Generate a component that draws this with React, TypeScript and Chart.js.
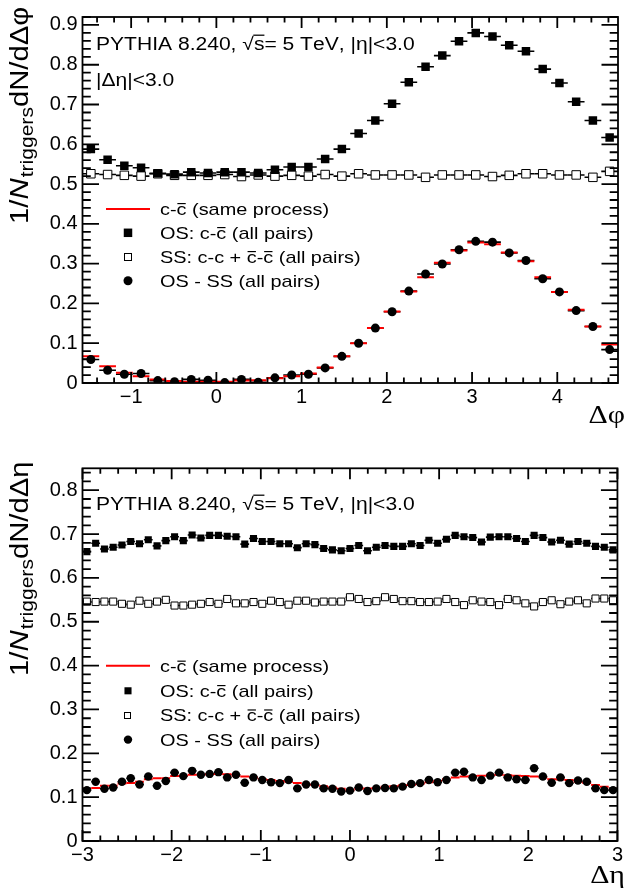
import React, { useEffect, useRef } from "react";
import { Chart, registerables } from "chart.js";

Chart.register(...registerables);

const PI = Math.PI;
const SANS = '"Liberation Sans", Arial, Helvetica, sans-serif';
const SERIF = '"Liberation Serif", "Times New Roman", serif';
const STRETCH = 1.17;

// ---------------- Top panel: Δφ (32 bins on [-π/2, 3π/2]) ----------------
const phiRange = [-PI / 2, (3 * PI) / 2];
const phiOS = [0.588, 0.561, 0.546, 0.541, 0.527, 0.525, 0.53, 0.528, 0.53, 0.53, 0.528, 0.536, 0.543, 0.543, 0.563, 0.588,
  0.627, 0.66, 0.702, 0.756, 0.795, 0.823, 0.859, 0.88, 0.871, 0.849, 0.834, 0.789, 0.754, 0.707, 0.66, 0.617];
const phiSS = [0.526, 0.524, 0.522, 0.52, 0.526, 0.522, 0.522, 0.522, 0.524, 0.519, 0.523, 0.52, 0.522, 0.52, 0.524, 0.52,
  0.526, 0.523, 0.523, 0.523, 0.517, 0.523, 0.523, 0.523, 0.519, 0.522, 0.526, 0.526, 0.523, 0.523, 0.517, 0.532];
const phiDiff = [0.059, 0.032, 0.022, 0.024, 0.006, 0.003, 0.009, 0.007, 0.001, 0.009, 0.002, 0.013, 0.02, 0.022, 0.038, 0.067,
  0.1, 0.138, 0.179, 0.231, 0.274, 0.299, 0.335, 0.356, 0.354, 0.327, 0.308, 0.262, 0.229, 0.182, 0.142, 0.084];
const phiSame = [0.067, 0.042, 0.026, 0.017, 0.009, 0.005, 0.003, 0.003, 0.003, 0.006, 0.007, 0.012, 0.017, 0.024, 0.039, 0.067,
  0.1, 0.138, 0.18, 0.23, 0.266, 0.302, 0.333, 0.353, 0.349, 0.328, 0.306, 0.266, 0.229, 0.184, 0.142, 0.097];
const phiXTicks = [-1, 0, 1, 2, 3, 4];
const phiXTickLabels = ["\u22121", "0", "1", "2", "3", "4"];
const phiYTicks = [0, 0.1, 0.2, 0.3, 0.4, 0.5, 0.6, 0.7, 0.8, 0.9];
const phiYTickLabels = ["0", "0.1", "0.2", "0.3", "0.4", "0.5", "0.6", "0.7", "0.8", "0.9"];
const phiYMax = 0.92;
const phiYTitle = ["1/", "N", "triggers", "dN/d\u0394\u03c6"];
const phiXTitle = "\u0394\u03c6";
const phiHeader = ["PYTHIA 8.240, \u221as= 5 TeV, |\u03b7|<3.0", "|\u0394\u03b7|<3.0"];

// ---------------- Bottom panel: Δη (61 bins on [-3, 3]) ----------------
const etaRange = [-3, 3];
const etaOS = [0.66, 0.679, 0.666, 0.67, 0.675, 0.683, 0.678, 0.687, 0.673, 0.685, 0.694, 0.685, 0.698, 0.691, 0.697, 0.697,
  0.695, 0.694, 0.677, 0.69, 0.683, 0.683, 0.678, 0.678, 0.669, 0.678, 0.676, 0.667, 0.664, 0.662, 0.667,
  0.674, 0.662, 0.67, 0.674, 0.672, 0.672, 0.678, 0.674, 0.686, 0.679, 0.688, 0.697, 0.694, 0.692, 0.682,
  0.693, 0.694, 0.694, 0.69, 0.683, 0.697, 0.692, 0.682, 0.686, 0.677, 0.683, 0.679, 0.672, 0.67, 0.664];
const etaSS = [0.546, 0.545, 0.546, 0.546, 0.541, 0.539, 0.548, 0.541, 0.546, 0.55, 0.537, 0.537, 0.539, 0.541, 0.545, 0.541,
  0.552, 0.542, 0.542, 0.545, 0.541, 0.548, 0.545, 0.539, 0.548, 0.548, 0.544,
  0.546, 0.546, 0.546, 0.556, 0.552, 0.545, 0.547, 0.556, 0.552, 0.547, 0.547, 0.545, 0.545, 0.546, 0.552,
  0.545, 0.538, 0.549, 0.546, 0.545, 0.538, 0.552, 0.549, 0.542, 0.535, 0.545, 0.549, 0.54, 0.546, 0.549,
  0.542, 0.553, 0.553, 0.549];
const etaDiff = [0.116, 0.135, 0.119, 0.122, 0.135, 0.143, 0.129, 0.147, 0.126, 0.137, 0.156, 0.148, 0.16, 0.151, 0.153, 0.157,
  0.145, 0.151, 0.133, 0.145, 0.139, 0.134, 0.132, 0.139, 0.12, 0.129, 0.129, 0.12, 0.119, 0.113, 0.115,
  0.122, 0.114, 0.12, 0.121, 0.12, 0.124, 0.13, 0.132, 0.139, 0.134, 0.139, 0.156, 0.158, 0.145, 0.139,
  0.149, 0.156, 0.145, 0.141, 0.139, 0.166, 0.147, 0.133, 0.145, 0.132, 0.138, 0.135, 0.12, 0.116, 0.116];
const etaSame = [0.119, 0.121, 0.126, 0.126, 0.131, 0.132, 0.135, 0.141, 0.143, 0.143, 0.148, 0.149, 0.151, 0.151, 0.152, 0.153,
  0.152, 0.149, 0.147, 0.145, 0.141, 0.139, 0.137, 0.135, 0.132, 0.129, 0.128, 0.125, 0.122, 0.119, 0.116,
  0.119, 0.12, 0.121, 0.124, 0.125, 0.127, 0.128, 0.13, 0.134, 0.137, 0.141, 0.145, 0.147, 0.148, 0.149,
  0.151, 0.151, 0.15, 0.149, 0.148, 0.147, 0.145, 0.141, 0.14, 0.139, 0.135, 0.132, 0.128, 0.124, 0.12];
const etaXTicks = [-3, -2, -1, 0, 1, 2, 3];
const etaXTickLabels = ["\u22123", "\u22122", "\u22121", "0", "1", "2", "3"];
const etaYTicks = [0, 0.1, 0.2, 0.3, 0.4, 0.5, 0.6, 0.7, 0.8];
const etaYTickLabels = ["0", "0.1", "0.2", "0.3", "0.4", "0.5", "0.6", "0.7", "0.8"];
const etaYMax = 0.85;
const etaYTitle = ["1/", "N", "triggers", "dN/d\u0394\u03b7"];
const etaXTitle = "\u0394\u03b7";
const etaHeader = ["PYTHIA 8.240, \u221as= 5 TeV, |\u03b7|<3.0"];

const legendLabels = [
  "c-c\u0304 (same process)",
  "OS: c-c\u0304 (all pairs)",
  "SS: c-c + c\u0304-c\u0304 (all pairs)",
  "OS - SS (all pairs)",
];

// minor / major tick spacing of the frame (ROOT style, ticks inside on all four sides)
const xMinorStep = 0.2;
const yMinorStep = 0.02;

// ---------------- helpers ----------------
function centers(n: number, lo: number, hi: number) {
  const w = (hi - lo) / n;
  return Array.from({ length: n }, (_, i) => lo + (i + 0.5) * w);
}

type Tok = { ch: string; bar: boolean; root: boolean };
function tokenize(s: string): Tok[] {
  const out: Tok[] = [];
  for (const c of Array.from(s)) {
    if (c === "\u0304") {
      if (out.length) out[out.length - 1].bar = true;
      continue;
    }
    out.push({ ch: c, bar: false, root: false });
  }
  for (let i = 0; i < out.length - 1; i++) if (out[i].ch === "\u221a") out[i + 1].root = true;
  return out;
}

function drawRich(ctx: CanvasRenderingContext2D, s: string, x: number, y: number, size: number,
  opts: { align?: string; sx?: number; family?: string } = {}) {
  const align = opts.align || "left";
  const sx = opts.sx ?? STRETCH;
  const family = opts.family || SANS;
  ctx.save();
  ctx.font = `${size}px ${family}`;
  ctx.textAlign = "left";
  ctx.textBaseline = "alphabetic";
  ctx.fillStyle = "#000";
  ctx.strokeStyle = "#000";
  const toks = tokenize(s);
  const ws = toks.map((t) => ctx.measureText(t.ch).width);
  const total = ws.reduce((a, b) => a + b, 0);
  ctx.translate(x, y);
  ctx.scale(sx, 1);
  let cx = align === "right" ? -total : align === "center" ? -total / 2 : 0;
  ctx.lineWidth = Math.max(1, size * 0.07);
  const rootTop = -ctx.measureText("\u221a").actualBoundingBoxAscent;
  toks.forEach((t, i) => {
    const w = ws[i];
    ctx.fillText(t.ch, cx, 0);
    if (t.bar) {
      const yy = -size * 0.66;
      ctx.beginPath();
      ctx.moveTo(cx + w * 0.08, yy);
      ctx.lineTo(cx + w * 0.92, yy);
      ctx.stroke();
    }
    if (t.root) {
      const yy = rootTop + 0.6;
      ctx.beginPath();
      ctx.moveTo(cx - 0.5, yy);
      ctx.lineTo(cx + w, yy);
      ctx.stroke();
    }
    cx += w;
  });
  ctx.restore();
}

function drawYTitle(ctx: CanvasRenderingContext2D, parts: string[], xBase: number, yStart: number) {
  ctx.save();
  ctx.translate(xBase, yStart);
  ctx.rotate(-PI / 2);
  ctx.scale(STRETCH, 1);
  ctx.fillStyle = "#000";
  ctx.textBaseline = "alphabetic";
  ctx.textAlign = "left";
  let cx = 0;
  ctx.font = `25px ${SANS}`;
  ctx.fillText(parts[0], cx, 0);
  cx += ctx.measureText(parts[0]).width;
  ctx.font = `italic 25px ${SANS}`;
  ctx.fillText(parts[1], cx, 0);
  cx += ctx.measureText(parts[1]).width + 1;
  ctx.font = `18px ${SANS}`;
  ctx.fillText(parts[2], cx, 5);
  cx += ctx.measureText(parts[2]).width;
  ctx.font = `25px ${SANS}`;
  ctx.fillText(parts[3], cx, 0);
  ctx.restore();
}

type Spec = {
  range: number[];
  yMax: number;
  n: number;
  os: number[];
  ss: number[];
  diff: number[];
  same: number[];
  xTicks: number[];
  xTickLabels: string[];
  yTicks: number[];
  yTickLabels: string[];
  yTitle: string[];
  xTitle: string;
  header: string[];
  padTop: number;
  xAxisH: number;
  yTitleStart: number;
  xTitleBase: number;
  headerBase: number[];
  legLineY: number;
  legBase: number[];
  sqR: number;
  cirR: number;
};

function decorPlugin(spec: Spec) {
  const binW = (spec.range[1] - spec.range[0]) / spec.n;
  return {
    id: "rootDecor",
    beforeDatasetsDraw(chart: any) {
      const { ctx, chartArea: a } = chart;
      const xs = chart.scales.x;
      const ys = chart.scales.y;
      ctx.save();
      ctx.beginPath();
      ctx.rect(a.left, a.top, a.right - a.left, a.bottom - a.top);
      ctx.clip();
      chart.data.datasets.forEach((ds: any) => {
        ctx.strokeStyle = ds.barColor;
        ctx.lineWidth = ds.barWidth;
        ds.data.forEach((p: any) => {
          const x1 = xs.getPixelForValue(p.x - binW / 2);
          const x2 = xs.getPixelForValue(p.x + binW / 2);
          const yy = ys.getPixelForValue(p.y);
          ctx.beginPath();
          ctx.moveTo(x1, yy);
          ctx.lineTo(x2, yy);
          ctx.stroke();
        });
      });
      ctx.restore();
    },
    afterDraw(chart: any) {
      const { ctx, chartArea: a } = chart;
      const xs = chart.scales.x;
      const ys = chart.scales.y;
      const L = a.left;
      const R = a.right;
      const T = a.top;
      const B = a.bottom;
      ctx.save();
      ctx.strokeStyle = "#000";
      ctx.lineWidth = 1.8;
      ctx.lineCap = "butt";
      // frame
      ctx.strokeRect(L, T, R - L, B - T);
      // x ticks (major at integers, minor every xMinorStep)
      const k0 = Math.ceil(spec.range[0] / xMinorStep - 1e-9);
      const k1 = Math.floor(spec.range[1] / xMinorStep + 1e-9);
      for (let k = k0; k <= k1; k++) {
        const v = k * xMinorStep;
        const major = Math.abs(v - Math.round(v)) < 1e-6;
        const len = major ? 11 : 5.5;
        const px = xs.getPixelForValue(v);
        ctx.beginPath();
        ctx.moveTo(px, B);
        ctx.lineTo(px, B - len);
        ctx.moveTo(px, T);
        ctx.lineTo(px, T + len);
        ctx.stroke();
      }
      // y ticks (major every 0.1, minor every yMinorStep)
      const m1 = Math.floor(spec.yMax / yMinorStep + 1e-9);
      for (let m = 0; m <= m1; m++) {
        const v = m * yMinorStep;
        const len = m % 5 === 0 ? 16.5 : 8.3;
        const py = ys.getPixelForValue(v);
        ctx.beginPath();
        ctx.moveTo(L, py);
        ctx.lineTo(L + len, py);
        ctx.moveTo(R, py);
        ctx.lineTo(R - len, py);
        ctx.stroke();
      }
      ctx.restore();

      // titles
      drawYTitle(ctx, spec.yTitle, 28, spec.yTitleStart);
      drawRich(ctx, spec.xTitle, 625, spec.xTitleBase, 26, { align: "right", family: SERIF, sx: 1.15 });
      spec.header.forEach((h, i) => drawRich(ctx, h, 96, spec.headerBase[i], 18));

      // legend
      const mx = 128;
      ctx.save();
      ctx.strokeStyle = "#ff0000";
      ctx.lineWidth = 2;
      ctx.beginPath();
      ctx.moveTo(106, spec.legLineY);
      ctx.lineTo(150, spec.legLineY);
      ctx.stroke();
      const side = spec.sqR * Math.SQRT2;
      const c1 = spec.legBase[1] - 6;
      ctx.fillStyle = "#000";
      ctx.fillRect(mx - side / 2, c1 - side / 2, side, side);
      const c2 = spec.legBase[2] - 6;
      ctx.strokeStyle = "#000";
      ctx.lineWidth = 1;
      ctx.strokeRect(Math.round(mx - side / 2) + 0.5, Math.round(c2 - side / 2) + 0.5, Math.round(side) - 1, Math.round(side) - 1);
      const c3 = spec.legBase[3] - 6;
      ctx.beginPath();
      ctx.arc(mx, c3, spec.cirR, 0, 2 * PI);
      ctx.fill();
      ctx.restore();
      legendLabels.forEach((lab, i) => drawRich(ctx, lab, 160, spec.legBase[i], 17));
    },
  };
}

function makeConfig(spec: Spec): any {
  const xc = centers(spec.n, spec.range[0], spec.range[1]);
  const pts = (arr: number[]) => arr.map((v, i) => ({ x: xc[i], y: v }));
  const datasets = [
    {
      label: legendLabels[1], data: pts(spec.os), order: 1, pointStyle: "rect", pointRadius: spec.sqR,
      backgroundColor: "#000", borderColor: "#000", borderWidth: 0, showLine: false, barColor: "#000", barWidth: 1.6,
    },
    {
      label: legendLabels[2], data: pts(spec.ss), order: 2, pointStyle: "rect", pointRadius: spec.sqR,
      backgroundColor: "#fff", borderColor: "#000", borderWidth: 1, showLine: false, barColor: "#000", barWidth: 1.6,
    },
    {
      label: legendLabels[3], data: pts(spec.diff), order: 0, pointStyle: "circle", pointRadius: spec.cirR,
      backgroundColor: "#000", borderColor: "#000", borderWidth: 0, showLine: false, barColor: "#000", barWidth: 1.6,
    },
    {
      label: legendLabels[0], data: pts(spec.same), order: 3, pointRadius: 0, showLine: false,
      backgroundColor: "#ff0000", borderColor: "#ff0000", barColor: "#ff0000", barWidth: 2,
    },
  ];
  const tickFont = { family: SANS, size: 20 };
  const grid = { display: false, drawTicks: false, tickLength: 0 };
  return {
    type: "scatter",
    data: { datasets },
    options: {
      animation: false,
      responsive: false,
      maintainAspectRatio: false,
      events: [],
      layout: { padding: { top: spec.padTop, right: 2.5, left: 0, bottom: 0 } },
      plugins: { legend: { display: false }, tooltip: { enabled: false } },
      scales: {
        x: {
          type: "linear",
          min: spec.range[0],
          max: spec.range[1],
          grid,
          border: { display: false },
          afterFit: (s: any) => { s.height = spec.xAxisH; },
          afterBuildTicks: (s: any) => { s.ticks = spec.xTicks.map((v) => ({ value: v })); },
          ticks: {
            font: tickFont, color: "#000", padding: 2, maxRotation: 0, autoSkip: false,
            callback: (_v: any, i: number) => spec.xTickLabels[i],
          },
        },
        y: {
          type: "linear",
          min: 0,
          max: spec.yMax,
          grid,
          border: { display: false },
          afterFit: (s: any) => { s.width = 82.5; },
          afterBuildTicks: (s: any) => { s.ticks = spec.yTicks.map((v) => ({ value: v })); },
          ticks: {
            font: tickFont, color: "#000", padding: 5, autoSkip: false,
            callback: (_v: any, i: number) => spec.yTickLabels[i],
          },
        },
      },
    },
    plugins: [decorPlugin(spec)],
  };
}

const topSpec: Spec = {
  range: phiRange, yMax: phiYMax, n: phiOS.length,
  os: phiOS, ss: phiSS, diff: phiDiff, same: phiSame,
  xTicks: phiXTicks, xTickLabels: phiXTickLabels, yTicks: phiYTicks, yTickLabels: phiYTickLabels,
  yTitle: phiYTitle, xTitle: phiXTitle, header: phiHeader,
  padTop: 13, xAxisH: 62,
  yTitleStart: 224, xTitleBase: 423, headerBase: [49.6, 86],
  legLineY: 209, legBase: [214.8, 238.8, 262.8, 286.8],
  sqR: 6, cirR: 4.5,
};

const botSpec: Spec = {
  range: etaRange, yMax: etaYMax, n: etaOS.length,
  os: etaOS, ss: etaSS, diff: etaDiff, same: etaSame,
  xTicks: etaXTicks, xTickLabels: etaXTickLabels, yTicks: etaYTicks, yTickLabels: etaYTickLabels,
  yTitle: etaYTitle, xTitle: etaXTitle, header: etaHeader,
  padTop: 23.3, xAxisH: 48,
  yTitleStart: 231, xTitleBase: 438, headerBase: [64.6],
  legLineY: 220.7, legBase: [227.4, 251.8, 276.2, 300.6],
  sqR: 5, cirR: 4.2,
};

export default function App() {
  const topRef = useRef<HTMLCanvasElement>(null);
  const botRef = useRef<HTMLCanvasElement>(null);
  useEffect(() => {
    const charts: Chart[] = [];
    if (topRef.current) charts.push(new Chart(topRef.current, makeConfig(topSpec)));
    if (botRef.current) charts.push(new Chart(botRef.current, makeConfig(botSpec)));
    return () => charts.forEach((c) => c.destroy());
  }, []);
  return (
    <div style={{ position: "absolute", left: 0, top: 0, width: 625, height: 889, background: "#fff", overflow: "hidden" }}>
      <canvas ref={topRef} width={625} height={445} style={{ position: "absolute", left: 0, top: 0 }} />
      <canvas ref={botRef} width={625} height={444} style={{ position: "absolute", left: 0, top: 445 }} />
    </div>
  );
}
